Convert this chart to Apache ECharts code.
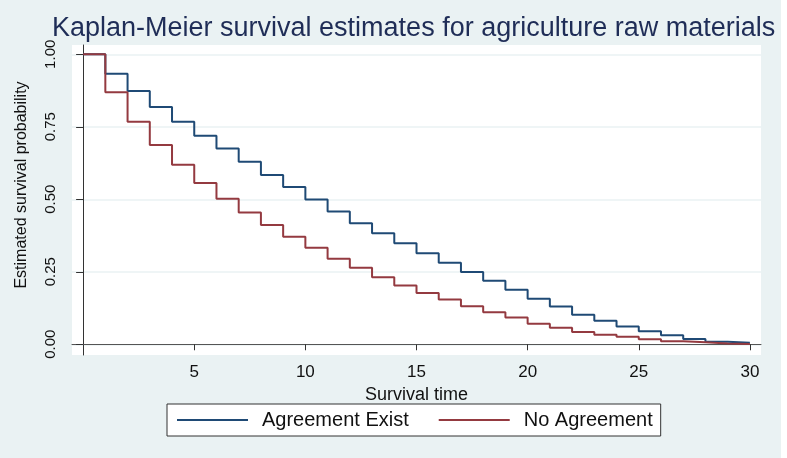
<!DOCTYPE html>
<html>
<head>
<meta charset="utf-8">
<script src="https://cdn.jsdelivr.net/npm/echarts@6/dist/echarts.min.js"></script>
<style>
  html, body { margin: 0; padding: 0; background: #ffffff; }
  #main { width: 781px; height: 458px; background: #eaf2f3; }
</style>
</head>
<body>
<div id="main"></div>
<script>
  // survival time (one step per unit)
  var times = [0, 1, 2, 3, 4, 5, 6, 7, 8, 9, 10, 11, 12, 13, 14, 15, 16, 17, 18, 19, 20,
    21, 22, 23, 24, 25, 26, 27, 28, 29, 30];
  var agreementExist = [1.000, 0.933, 0.873, 0.818, 0.767, 0.719, 0.675, 0.629, 0.584, 0.542,
    0.499, 0.458, 0.417, 0.383, 0.348, 0.314, 0.281, 0.249, 0.219, 0.188,
    0.157, 0.130, 0.102, 0.081, 0.061, 0.045, 0.031, 0.018, 0.009, 0.005, 0.005];
  var noAgreement = [1.000, 0.869, 0.767, 0.687, 0.619, 0.556, 0.502, 0.454, 0.411, 0.371,
    0.333, 0.295, 0.264, 0.231, 0.203, 0.177, 0.154, 0.131, 0.110, 0.092,
    0.071, 0.057, 0.042, 0.033, 0.026, 0.017, 0.010, 0.007, 0.003, 0.001, 0.001];
  var xTicks = [5, 10, 15, 20, 25, 30];
  var yTicks = [0, 0.25, 0.5, 0.75, 1];

  function pairs(vals) {
    return times.map(function (t, i) { return [t, vals[i]]; });
  }

  var chart = echarts.init(document.getElementById('main'));
  var axisColor = '#333333';
  chart.setOption({
    animation: false,
    title: {
      text: 'Kaplan-Meier survival estimates for agriculture raw materials',
      left: 52,
      top: 15,
      padding: 0,
      textStyle: {
        fontFamily: 'Liberation Sans',
        fontSize: 27,
        fontWeight: 'normal',
        color: '#1f2d57'
      }
    },
    grid: {
      left: 72,
      right: 20,
      top: 45,
      bottom: 103,
      show: true,
      backgroundColor: '#ffffff',
      borderWidth: 0
    },
    legend: {
      left: 167,
      top: 404,
      padding: [6, 8, 6, 10],
      itemGap: 30,
      itemWidth: 71,
      itemHeight: 2,
      icon: 'rect',
      backgroundColor: '#ffffff',
      borderColor: axisColor,
      borderWidth: 1,
      borderRadius: 0,
      textStyle: {
        fontFamily: 'Liberation Sans',
        fontSize: 20,
        color: '#111111',
        padding: [0, 0, 0, 9]
      },
      data: ['Agreement Exist', 'No Agreement']
    },
    xAxis: {
      type: 'value',
      min: -0.5,
      max: 30.5,
      name: 'Survival time',
      nameLocation: 'middle',
      nameGap: 22,
      nameTextStyle: { fontFamily: 'Liberation Sans', fontSize: 18, color: '#111111' },
      axisLine: { show: true, lineStyle: { color: '#555555', width: 1 } },
      axisTick: { show: true, length: 6, customValues: xTicks, lineStyle: { color: axisColor } },
      axisLabel: {
        customValues: xTicks,
        margin: 9,
        fontFamily: 'Liberation Sans',
        fontSize: 17,
        color: '#111111'
      },
      splitLine: { show: false }
    },
    yAxis: {
      type: 'value',
      min: -0.037,
      max: 1.032,
      name: 'Estimated survival probability',
      nameLocation: 'middle',
      nameGap: 42,
      nameTextStyle: {
        fontFamily: 'Liberation Sans',
        fontSize: 16,
        color: '#111111',
        padding: [0, 0, 0, 30]
      },
      axisLine: { show: true, lineStyle: { color: axisColor, width: 1 } },
      axisTick: { show: true, length: 7, customValues: yTicks, lineStyle: { color: axisColor } },
      axisLabel: {
        customValues: yTicks,
        rotate: 90,
        margin: 14,
        fontFamily: 'Liberation Sans',
        fontSize: 15,
        color: '#111111',
        formatter: function (v) { return v.toFixed(2); }
      },
      splitLine: { show: true, lineStyle: { color: '#eaf2f3', width: 1.5 } }
    },
    series: [
      {
        name: 'Agreement Exist',
        type: 'line',
        step: 'end',
        symbol: 'none',
        color: '#1f4a75',
        lineStyle: { color: '#1f4a75', width: 2 },
        data: pairs(agreementExist)
      },
      {
        name: 'No Agreement',
        type: 'line',
        step: 'end',
        symbol: 'none',
        color: '#943a40',
        lineStyle: { color: '#943a40', width: 2 },
        data: pairs(noAgreement)
      }
    ]
  });
</script>
</body>
</html>
